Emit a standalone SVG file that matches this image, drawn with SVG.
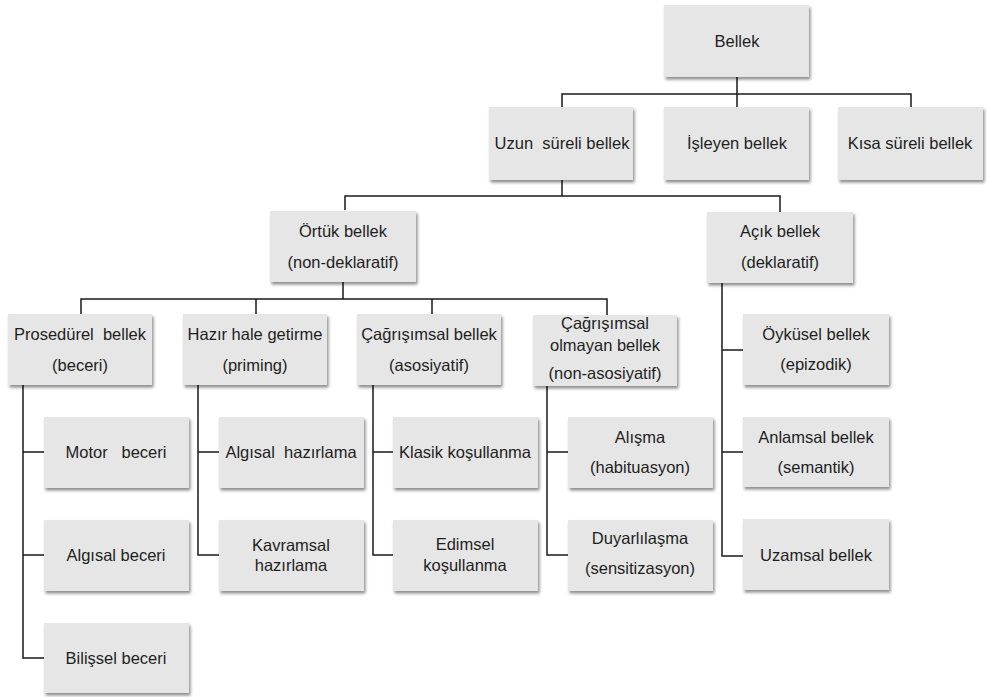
<svg xmlns="http://www.w3.org/2000/svg" width="987" height="697" viewBox="0 0 987 697">
<defs>
<filter id="sh" x="-10%" y="-10%" width="130%" height="140%">
<feDropShadow dx="1.5" dy="2.5" stdDeviation="1.5" flood-color="#000" flood-opacity="0.45"/>
</filter>
<style>
.b{fill:#e6e6e6;filter:url(#sh)}
text{font-family:"Liberation Sans","Open Sans",sans-serif;font-size:16.5px;fill:#1e1e1e;text-anchor:middle;white-space:pre}
.c{fill:none;stroke:#1a1a1a;stroke-width:1.5}
</style>
</defs>
<rect width="987" height="697" fill="#fff"/>
<g id="connectors">
<path class="c" d="M737 77V107M562 107V94H911V107"/>
<path class="c" d="M562 180V196M345 210V196H780V212"/>
<path class="c" d="M343 282V299M81 314V299H607V315M256 299V314M432 299V314"/>
<path class="c" d="M23 385V658H44M23 452H44M23 555H44"/>
<path class="c" d="M198 385V555H219M198 452H219"/>
<path class="c" d="M373 385V555H393M373 452H393"/>
<path class="c" d="M547 386V555H568M547 452H568"/>
<path class="c" d="M722 283V556H743M722 350H743M722 452H743"/>
</g>
<g id="bellek"><rect class="b" x="664" y="5" width="145" height="72"/><text x="737" y="47">Bellek</text></g>
<g id="uzun"><rect class="b" x="489" y="107" width="144" height="73"/><text x="562" y="149">Uzun  süreli bellek</text></g>
<g id="isleyen"><rect class="b" x="664" y="107" width="145" height="73"/><text x="737" y="149">İşleyen bellek</text></g>
<g id="kisa"><rect class="b" x="838" y="107" width="145" height="73"/><text x="910" y="149">Kısa süreli bellek</text></g>
<g id="ortuk"><rect class="b" x="270" y="211" width="146" height="71"/><text x="343" y="237">Örtük bellek</text><text x="343" y="268">(non-deklaratif)</text></g>
<g id="acik"><rect class="b" x="707" y="212" width="146" height="71"/><text x="780" y="237">Açık bellek</text><text x="780" y="268">(deklaratif)</text></g>
<g id="prosedurel"><rect class="b" x="8" y="314" width="144" height="71"/><text x="80" y="340">Prosedürel  bellek</text><text x="80" y="371">(beceri)</text></g>
<g id="hazir"><rect class="b" x="183" y="314" width="144" height="71"/><text x="255" y="340">Hazır hale getirme</text><text x="255" y="371">(priming)</text></g>
<g id="cagrisimsal"><rect class="b" x="357" y="314" width="144" height="71"/><text x="429" y="340">Çağrışımsal bellek</text><text x="429" y="371">(asosiyatif)</text></g>
<g id="olmayan"><rect class="b" x="533" y="315" width="144" height="71"/><text x="605" y="329">Çağrışımsal</text><text x="605" y="351">olmayan bellek</text><text x="605" y="379">(non-asosiyatif)</text></g>
<g id="motor"><rect class="b" x="44" y="417" width="145" height="71"/><text x="116" y="458">Motor   beceri</text></g>
<g id="algisalbeceri"><rect class="b" x="44" y="520" width="145" height="71"/><text x="116" y="561">Algısal beceri</text></g>
<g id="bilissel"><rect class="b" x="44" y="623" width="145" height="70"/><text x="116" y="664">Bilişsel beceri</text></g>
<g id="algisalhaz"><rect class="b" x="219" y="417" width="145" height="71"/><text x="291" y="458">Algısal  hazırlama</text></g>
<g id="kavramsal"><rect class="b" x="219" y="520" width="145" height="71"/><text x="291" y="551">Kavramsal</text><text x="291" y="571">hazırlama</text></g>
<g id="klasik"><rect class="b" x="393" y="417" width="145" height="71"/><text x="465" y="458">Klasik koşullanma</text></g>
<g id="edimsel"><rect class="b" x="393" y="520" width="145" height="71"/><text x="465" y="550">Edimsel</text><text x="465" y="571">koşullanma</text></g>
<g id="alisma"><rect class="b" x="568" y="417" width="145" height="71"/><text x="640" y="443">Alışma</text><text x="640" y="473">(habituasyon)</text></g>
<g id="duyarlilasma"><rect class="b" x="568" y="520" width="145" height="71"/><text x="640" y="544">Duyarlılaşma</text><text x="640" y="574">(sensitizasyon)</text></g>
<g id="oykusel"><rect class="b" x="743" y="314" width="146" height="71"/><text x="816" y="340">Öyküsel bellek</text><text x="816" y="370">(epizodik)</text></g>
<g id="anlamsal"><rect class="b" x="743" y="417" width="146" height="70"/><text x="816" y="443">Anlamsal bellek</text><text x="816" y="473">(semantik)</text></g>
<g id="uzamsal"><rect class="b" x="743" y="519" width="146" height="71"/><text x="816" y="561">Uzamsal bellek</text></g>
</svg>
